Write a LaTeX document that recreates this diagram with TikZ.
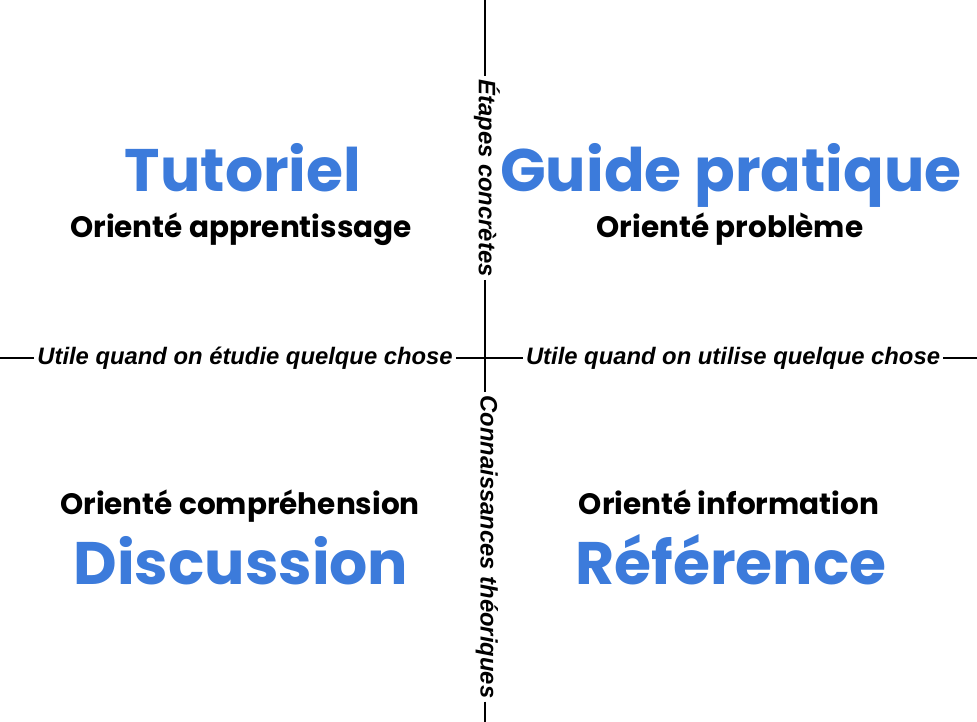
\documentclass[tikz,border=0pt]{standalone}
\usepackage{fontspec}
\setmainfont{Liberation Sans}
\newfontfamily\titlefont{Poppins}
\definecolor{titleblue}{HTML}{3C7BDB}
\tikzset{
  axislabel/.style={font=\fontsize{23.8}{26}\selectfont\bfseries\itshape, inner sep=3pt},
  bigtitle/.style={font=\fontsize{60}{64}\selectfont\titlefont\bfseries, text=titleblue, inner sep=0pt, anchor=base},
  subtitle/.style={font=\fontsize{29.5}{32}\selectfont\titlefont\bfseries, inner sep=0pt, anchor=base},
  axisline/.style={line width=2.6pt, black}
}
\begin{document}
\begin{tikzpicture}[x=1pt,y=-1pt]
\useasboundingbox (0,0) rectangle (977,722);
% axis labels
\node[axislabel] (lt) at (245,358) {Utile quand on étudie quelque chose};
\node[axislabel] (rt) at (733,358) {Utile quand on utilise quelque chose};
\node[axislabel, rotate=-90] (tp) at (487,178) {Étapes concrètes};
\node[axislabel, rotate=-90] (bt) at (487,547) {Connaissances théoriques};
\coordinate (L) at (0,358);
\coordinate (R) at (977,358);
\coordinate (T) at (485,0);
\coordinate (B) at (485,722);
\draw[axisline] (L) -- (lt.west);
\draw[axisline] (lt.east) -- (rt.west);
\draw[axisline] (rt.east) -- (R);
\draw[axisline] (T) -- (T |- tp.west);
\draw[axisline] (T |- tp.east) -- (T |- bt.west);
\draw[axisline] (T |- bt.east) -- (B);
% quadrants
\node[bigtitle] (tut) at (243,192) {Tutoriel};
\node[subtitle] (tuts) at (241,237) {Orienté apprentissage};
\node[bigtitle] (gp) at (731,192) {Guide pratique};
\node[subtitle] (gps) at (730,237) {Orienté problème};
\node[subtitle] (dis) at (240,514) {Orienté compréhension};
\node[bigtitle] (disc) at (241,584) {Discussion};
\node[subtitle] (ref) at (729,514) {Orienté information};
\node[bigtitle] (refe) at (731,584) {Référence};
\end{tikzpicture}
\end{document}
